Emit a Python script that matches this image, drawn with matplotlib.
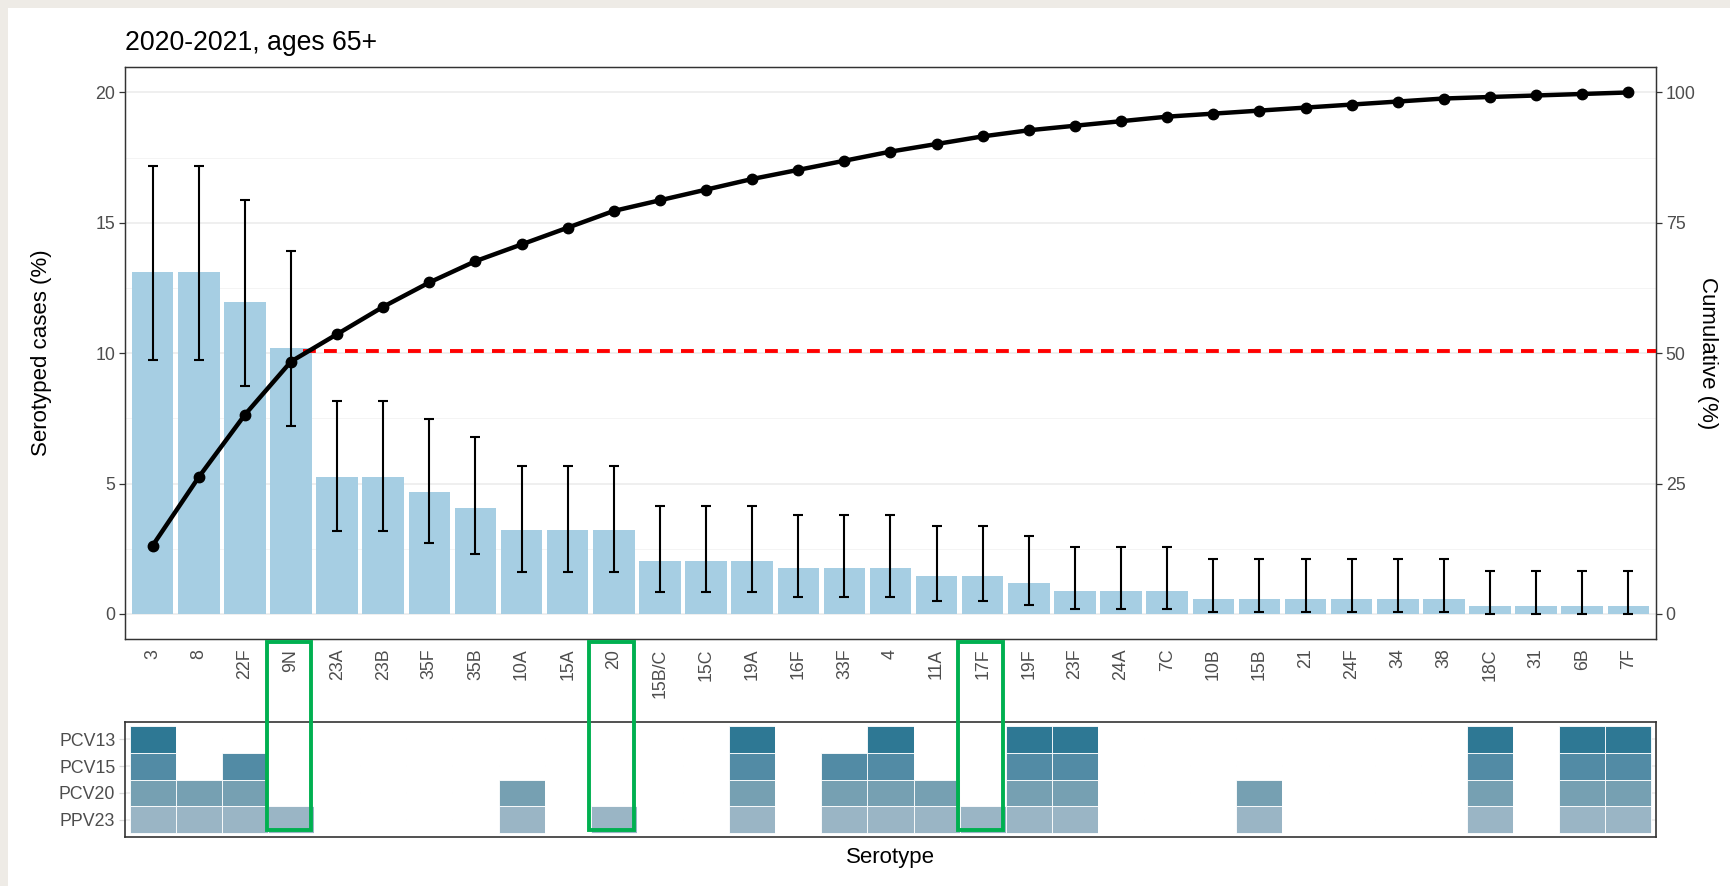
import numpy as np
import matplotlib
matplotlib.use('Agg')
import matplotlib.pyplot as plt
from matplotlib.patches import Rectangle
from matplotlib.transforms import blended_transform_factory

plt.rcParams['font.family'] = ['Liberation Sans', 'DejaVu Sans']

# serotype distribution, 2020-2021, ages 65+
serotypes = ['3', '8', '22F', '9N', '23A', '23B', '35F', '35B', '10A', '15A', '20',
             '15B/C', '15C', '19A', '16F', '33F', '4', '11A', '17F', '19F', '23F',
             '24A', '7C', '10B', '15B', '21', '24F', '34', '38', '18C', '31', '6B', '7F']
pct = [13.12, 13.12, 11.95, 10.20, 5.25, 5.25, 4.66, 4.08, 3.21, 3.21, 3.21,
       2.04, 2.04, 2.04, 1.75, 1.75, 1.75, 1.46, 1.46, 1.17, 0.87,
       0.87, 0.87, 0.58, 0.58, 0.58, 0.58, 0.58, 0.58, 0.29, 0.29, 0.29, 0.29]
ci_low = [9.74, 9.74, 8.73, 7.22, 3.17, 3.17, 2.72, 2.29, 1.62, 1.62, 1.62,
          0.84, 0.84, 0.84, 0.65, 0.65, 0.65, 0.50, 0.50, 0.33, 0.20,
          0.20, 0.20, 0.09, 0.09, 0.09, 0.09, 0.09, 0.09, 0.01, 0.01, 0.01, 0.01]
ci_high = [17.19, 17.19, 15.87, 13.92, 8.18, 8.18, 7.48, 6.78, 5.67, 5.67, 5.67,
           4.15, 4.15, 4.15, 3.80, 3.80, 3.80, 3.39, 3.39, 2.99, 2.57,
           2.57, 2.57, 2.11, 2.11, 2.11, 2.11, 2.11, 2.11, 1.65, 1.65, 1.65, 1.65]
half_mark = 50.5  # cumulative % reference line

# vaccine coverage
vaccines = ['PCV13', 'PCV15', 'PCV20', 'PPV23']
pcv13 = ['3', '19A', '4', '19F', '23F', '18C', '6B', '7F']
pcv15 = pcv13 + ['22F', '33F']
pcv20 = pcv15 + ['8', '10A', '11A', '15B']
ppv23 = ['3', '8', '22F', '9N', '10A', '20', '19A', '33F', '4', '11A', '17F',
         '19F', '23F', '15B', '18C', '6B', '7F']
coverage = [pcv13, pcv15, pcv20, ppv23]
vax_colors = ['#2E7894', '#528BA5', '#76A0B2', '#9AB5C5']
highlight = ['9N', '20', '17F']

x = np.arange(len(serotypes))
pct = np.array(pct)
cum = np.cumsum(pct)

W, H = 1731, 886
fig = plt.figure(figsize=(W / 100, H / 100), dpi=100)
fig.patch.set_facecolor('white')


def box(l, t, r, b):
    return [l / W, 1 - b / H, (r - l) / W, (b - t) / H]


ax = fig.add_axes(box(125, 67, 1656, 639))
hm = fig.add_axes(box(125, 722, 1656, 837))

tick_col = '#4D4D4D'
frame_col = '#333333'

# bars + error bars
ax.bar(x, pct, width=0.9, color='#A6CEE3', zorder=2)
ax.errorbar(x, pct, yerr=[pct - np.array(ci_low), np.array(ci_high) - pct],
            fmt='none', ecolor='black', elinewidth=1.5, capsize=3.8,
            capthick=1.5, zorder=3)
ax.set_xlim(-0.6, len(serotypes) - 0.4)
ax.set_ylim(-0.96, 20.97)
ax.set_yticks([0, 5, 10, 15, 20])
ax.set_yticks([2.5, 7.5, 12.5, 17.5], minor=True)
ax.grid(axis='y', which='major', color='#EBEBEB', lw=1.1)
ax.grid(axis='y', which='minor', color='#F2F2F2', lw=0.6)
ax.set_axisbelow(True)
ax.set_xticks(x)
ax.set_xticklabels(serotypes, rotation=90)
ax.tick_params(axis='x', length=0, pad=7, labelsize=12.8, labelcolor=tick_col)
ax.tick_params(axis='y', length=4.3, width=0.9, color=frame_col, pad=2.7,
               labelsize=12.8, labelcolor=tick_col)
ax.tick_params(which='minor', length=0)

# cumulative line on secondary axis (x5)
ax2 = ax.twinx()
ax2.set_ylim(-0.96 * 5, 20.97 * 5)
ax2.set_yticks([0, 25, 50, 75, 100])
ax2.plot([3.25, len(serotypes) - 0.4], [half_mark, half_mark], color='red',
         lw=2.8, dashes=(3.3, 2.1), solid_capstyle='butt', zorder=3)
ax2.plot(x, cum, color='black', lw=3.2, marker='o', ms=7.5, zorder=4)
ax2.tick_params(axis='y', length=4.3, width=0.9, color=frame_col, pad=2.7,
                labelsize=12.8, labelcolor=tick_col)

for a in (ax, ax2):
    for s in a.spines.values():
        s.set_color(frame_col)
        s.set_linewidth(0.9)

fig.text(125 / W, 1 - 50 / H, '2020-2021, ages 65+', fontsize=19.2,
         ha='left', va='baseline')
fig.text(42 / W, 1 - 353 / H, 'Serotyped cases (%)', fontsize=16,
         rotation=90, ha='center', va='center')
fig.text(1708 / W, 1 - 353 / H, 'Cumulative (%)', fontsize=16,
         rotation=270, ha='center', va='center')

# vaccine heatmap: white tiles for serotypes not in a vaccine
n_rows = len(vaccines)
for r, (members, col) in enumerate(zip(coverage, vax_colors)):
    row = n_rows - 1 - r
    cols = [col if s in members else 'white' for s in serotypes]
    hm.bar(x, 1, bottom=row - 0.5, width=1, color=cols,
           edgecolor='white', linewidth=0.6, zorder=2)
hm.set_xlim(-0.6, len(serotypes) - 0.4)
hm.set_ylim(-0.63, n_rows - 0.37)
hm.set_yticks(range(n_rows))
hm.set_yticklabels(vaccines[::-1])
hm.set_xticks([])
hm.grid(axis='y', color='#EBEBEB', lw=1.1)
hm.set_axisbelow(True)
hm.tick_params(axis='y', length=4.3, width=0.9, color='#D9D9D9', pad=2.7,
               labelsize=12.8, labelcolor=tick_col)
for s in hm.spines.values():
    s.set_color(frame_col)
    s.set_linewidth(1.2)
fig.text(890 / W, 1 - 858 / H, 'Serotype', fontsize=16, ha='center', va='center')

# highlight boxes spanning label area and heatmap
trans = blended_transform_factory(hm.transData, fig.transFigure)
for s in highlight:
    i = serotypes.index(s)
    fig.add_artist(Rectangle((i - 0.53, 1 - 830 / H), 0.97, (830 - 642) / H,
                             transform=trans, fill=False, edgecolor='#00B050',
                             lw=2.8, clip_on=False, zorder=10))

# page margin strips
beige = '#EEEBE6'
fig.add_artist(Rectangle((0, 1 - 8 / H), 1, 8 / H, transform=fig.transFigure,
                         color=beige, lw=0))
fig.add_artist(Rectangle((0, 0), 8 / W, 1, transform=fig.transFigure,
                         color=beige, lw=0))

fig.savefig('out.png', dpi=100)
